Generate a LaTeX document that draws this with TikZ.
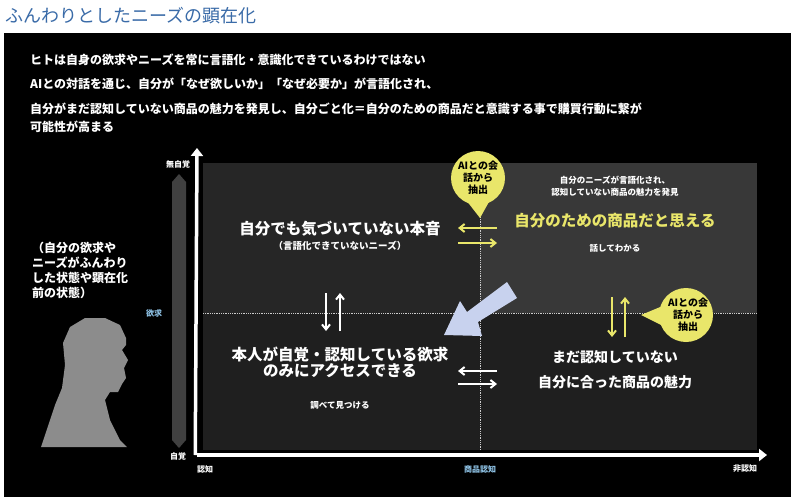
\documentclass[tikz,border=0pt]{standalone}
\usepackage{fontspec}
\setmainfont{Noto Sans CJK JP}
\usetikzlibrary{arrows.meta}
\definecolor{ttl}{HTML}{3A6BA8}
\definecolor{ylw}{HTML}{E9E66A}
\definecolor{lblue}{HTML}{8FC3E6}
\definecolor{barrow}{HTML}{C8D2EE}
\tikzset{
 wt/.style={text=white,font=\bfseries\fontsize{#1}{#1}\selectfont,inner sep=0pt},
 wt/.default=12,
 bub/.style={fill=ylw,draw=none},
 ax/.style={white,line width=3.5pt,-{Triangle[length=8pt,width=12pt]}},
 ya/.style={ylw,line width=2pt,-{Straight Barb[length=5pt,width=8pt]}},
 wa/.style={white,line width=2pt,-{Straight Barb[length=5pt,width=8pt]}},
}
\begin{document}
\begin{tikzpicture}[x=1pt,y=-1pt]
\useasboundingbox (0,0) rectangle (799,497);
\fill[white] (0,0) rectangle (799,497);
\node[anchor=west,text=ttl,font=\fontsize{18}{18}\selectfont,inner sep=0pt] (title) at (5,16) {ふんわりとしたニーズの顕在化};
\fill[black] (4,33) rectangle (791,497);
\node[wt=12,anchor=west] (l1) at (30,60) {ヒトは自身の欲求やニーズを常に言語化・意識化できているわけではない};
\node[wt=12,anchor=west] (l2) at (30,84) {AIとの対話を通じ、自分が「なぜ欲しいか」「なぜ必要か」が言語化され、};
\node[wt=12,anchor=west] (l3) at (30,109) {自分がまだ認知していない商品の魅力を発見し、自分ごと化＝自分のための商品だと意識する事で購買行動に繋が};
\node[wt=12,anchor=west] (l4) at (30,127) {可能性が高まる};
% quadrants
\fill[black!85] (203,163) rectangle (480,313);
\fill[black!78] (480,163) rectangle (757,313);
\fill[black!88] (203,313) rectangle (757,450);
\draw[white!80!black,densely dotted,line width=0.8pt] (203,313) -- (757,313);
\draw[white!80!black,densely dotted,line width=0.8pt] (480,163) -- (480,450);
% axes
\coordinate (o) at (197,455);
\coordinate (yt) at (197,148);
\coordinate (xr) at (767,455);
\draw[ax] (195.25,455) -- (yt);
\draw[ax] (o) -- (xr);
% left bar
\fill[black!75] (172,182) -- (179,174) -- (186,182) -- (186,440) -- (179,448) -- (172,440) -- cycle;
\node[wt=8] (mj) at (178,164) {無自覚};
\node[wt=8] (jk) at (178,456) {自覚};
\node[text=lblue,font=\bfseries\fontsize{8}{8}\selectfont,inner sep=0pt] (yk) at (154,313) {欲求};
\node[wt=8] (nc) at (205,469) {認知};
\node[text=lblue,font=\bfseries\fontsize{8}{8}\selectfont,inner sep=0pt] (sn) at (480,469) {商品認知};
\node[wt=8] (hn) at (745,469) {非認知};
% left text
\node[text=white,font=\bfseries\fontsize{12}{15}\selectfont,inner sep=0pt,align=left,anchor=north west] (lt) at (32,242) {（自分の欲求や\\ニーズがふんわり\\した状態や顕在化\\前の状態）};
% head silhouette
\fill[black!45] (41,447) -- (55,405) -- (62,388) -- (65,365) -- (63,343) -- (70,327) -- (85,318) -- (105,318) -- (120,325) -- (126,338) -- (126,345) -- (122,350) -- (128,360) -- (124,368) -- (126,378) -- (122,384) -- (118,392) -- (110,392) -- (105,400) -- (110,420) -- (120,440) -- (127,447) -- cycle;
% quadrant texts
\node[wt=15.5] (q1) at (340,229) {自分でも気づいていない本音};
\node[wt=9.5] (q1b) at (340,246) {（言語化できていないニーズ）};
\node[wt=15.5] (q3) at (340,354) {本人が自覚・認知している欲求};
\node[wt=15.5] (q3b) at (340,371) {のみにアクセスできる};
\node[wt=8.5] (q3c) at (340,405) {調べて見つける};
\node[text=white,font=\bfseries\fontsize{8.5}{12}\selectfont,inner sep=0pt,align=center] (q2a) at (615,186) {自分のニーズが言語化され、\\認知していない商品の魅力を発見};
\node[text=ylw,font=\bfseries\fontsize{15.5}{15.5}\selectfont,inner sep=0pt] (q2) at (615,221) {自分のための商品だと思える};
\node[wt=8.5] (q2c) at (615,248) {話してわかる};
\node[wt=14] (q4) at (615,357) {まだ認知していない};
\node[wt=14] (q4b) at (615,382) {自分に合った商品の魅力};
% bubbles
\fill[bub] (478,178) circle (27);
\fill[bub] (466,200) -- (480,218) -- (490,200) -- cycle;
\node[font=\bfseries\fontsize{10}{12}\selectfont,align=center,inner sep=0pt] (b1) at (478,178) {AIとの会\\話から\\抽出};
\fill[bub] (686,315) circle (27);
\fill[bub] (665,305) -- (641,315) -- (665,327) -- cycle;
\node[font=\bfseries\fontsize{10}{12}\selectfont,align=center,inner sep=0pt] (b2) at (688,315) {AIとの会\\話から\\抽出};
% arrows
\coordinate (a1) at (497,228); \coordinate (a2) at (458,228);
\coordinate (a3) at (458,243); \coordinate (a4) at (497,243);
\draw[ya] (a1) -- (a2);
\draw[ya] (a3) -- (a4);
\coordinate (c1) at (612,297); \coordinate (c2) at (612,337);
\coordinate (c3) at (625,337); \coordinate (c4) at (625,297);
\draw[ya] (c1) -- (c2);
\draw[ya] (c3) -- (c4);
\coordinate (d1) at (326,293); \coordinate (d2) at (326,331);
\coordinate (d3) at (340,331); \coordinate (d4) at (340,293);
\draw[wa] (d1) -- (d2);
\draw[wa] (d3) -- (d4);
\coordinate (e1) at (497,371); \coordinate (e2) at (458,371);
\coordinate (e3) at (458,384); \coordinate (e4) at (497,384);
\draw[wa] (e1) -- (e2);
\draw[wa] (e3) -- (e4);
% big arrow
\fill[barrow] (507,282) -- (517,298) -- (478,322) -- (482,336) -- (444,335) -- (460,301) -- (467,312) -- cycle;
\end{tikzpicture}
\end{document}
